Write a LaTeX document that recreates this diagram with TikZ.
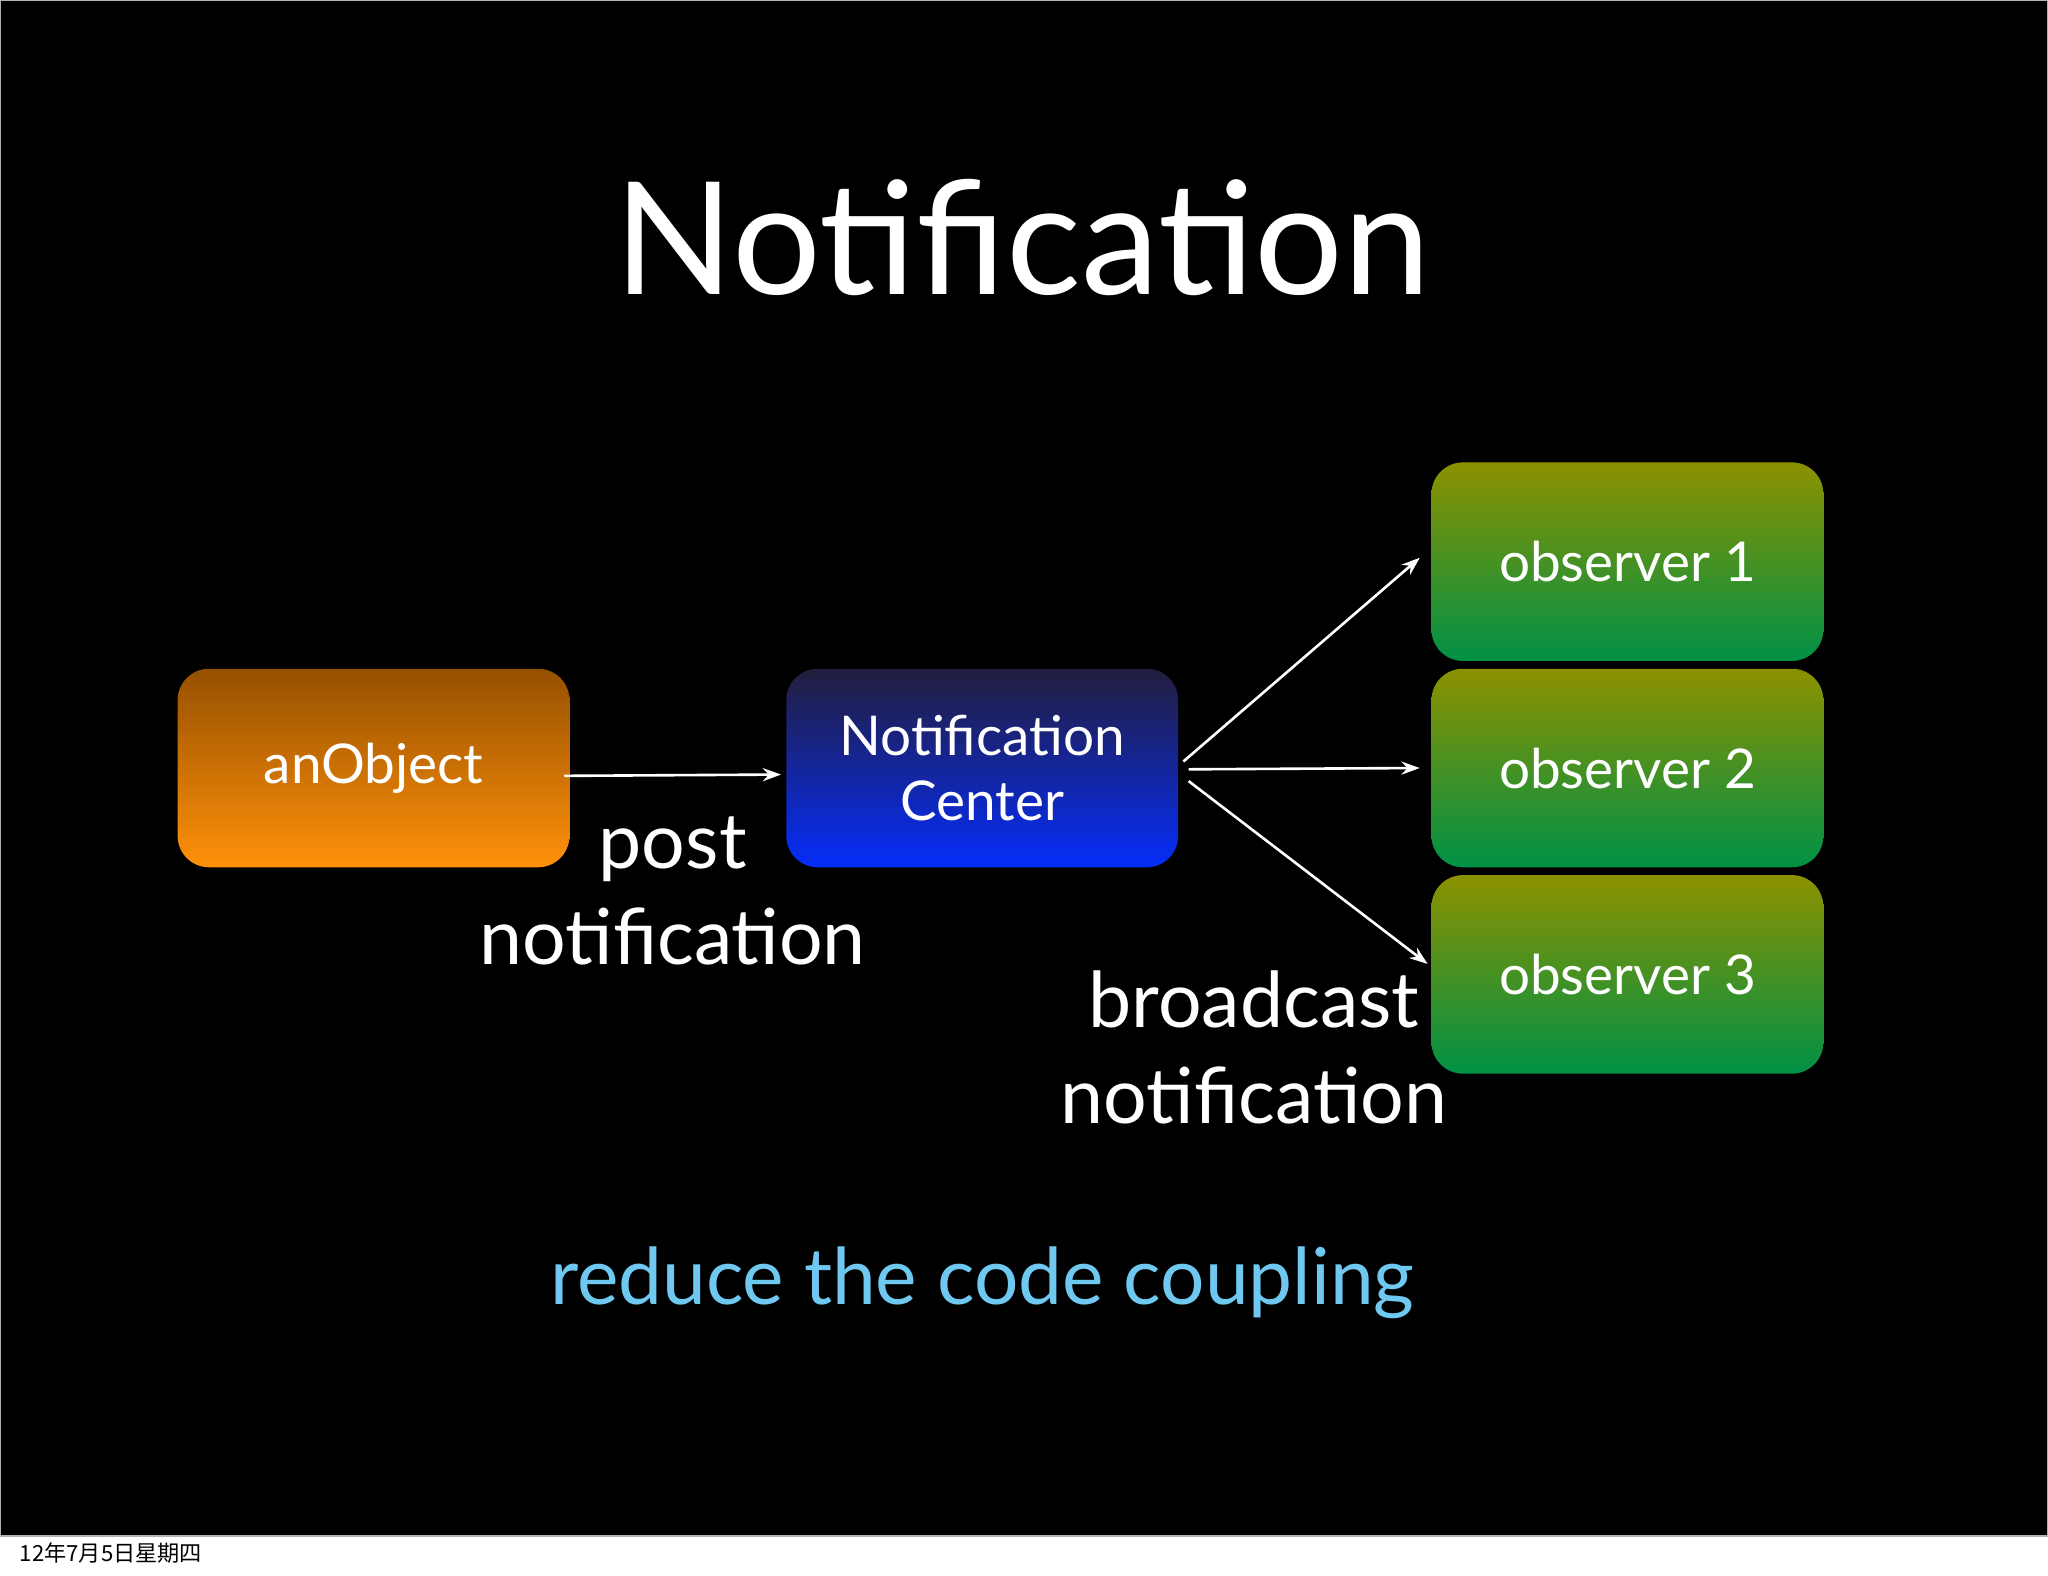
\documentclass[tikz,border=0pt]{standalone}
\usepackage{fontspec}
\setmainfont{Lato}
\newfontfamily\cjkf{Noto Sans CJK SC}
\usetikzlibrary{arrows.meta}
\begin{document}
\begin{tikzpicture}[x=0.5pt,y=-0.5pt,
 box/.style={rounded corners=12pt,minimum width=150pt,minimum height=76pt,text=white,font=\fontsize{21}{25}\selectfont,align=center},
 arr/.style={white,line width=1pt,-{Stealth[length=7pt,width=5pt]}},
 lab/.style={text=white,font=\fontsize{29.5}{37}\selectfont,align=center}]
\useasboundingbox (0,0) rectangle (1568,1206);
\fill[white] (0,0) rectangle (1568,1206);
\fill[black] (0,0) rectangle (1568,1176);
\draw[gray!60,line width=0.6pt] (0.5,0.5) rectangle (1567.5,1176);
\node[text=white,font=\fontsize{60}{66}\selectfont] (title) at (783,182) {Notification};
\node[box,top color={rgb,255:red,150;green,80;blue,0},bottom color={rgb,255:red,255;green,145;blue,10}] (ao) at (286,588) {anObject};
\node[box,top color={rgb,255:red,35;green,30;blue,60},bottom color={rgb,255:red,5;green,45;blue,250}] (nc) at (752,588) {Notification\\Center};
\foreach \n/\y in {1/430,2/588,3/746}{
 \node[box,top color={rgb,255:red,140;green,145;blue,0},bottom color={rgb,255:red,0;green,145;blue,70}] (o\n) at (1246,\y) {observer \n};}
\coordinate (a1) at (432,594); \coordinate (a2) at (598,593);
\draw[arr] (a1) -- (a2);
\coordinate (b0) at (906,583); \coordinate (b1) at (1087,427);
\coordinate (c0) at (910,589); \coordinate (c1) at (1087,588);
\coordinate (d0) at (910,598); \coordinate (d1) at (1093,738);
\draw[arr] (b0) -- (b1);
\draw[arr] (c0) -- (c1);
\draw[arr] (d0) -- (d1);
\node[lab] (post) at (515,682) {post\\notification};
\node[lab] (bc) at (960,802) {broadcast\\notification};
\node[text={rgb,255:red,110;green,200;blue,240},font=\fontsize{30}{36}\selectfont] (red) at (752,982) {reduce the code coupling};
\node[anchor=west,font=\cjkf\fontsize{8.5}{10}\selectfont] (date) at (8,1189) {12年7月5日星期四};
\end{tikzpicture}
\end{document}
